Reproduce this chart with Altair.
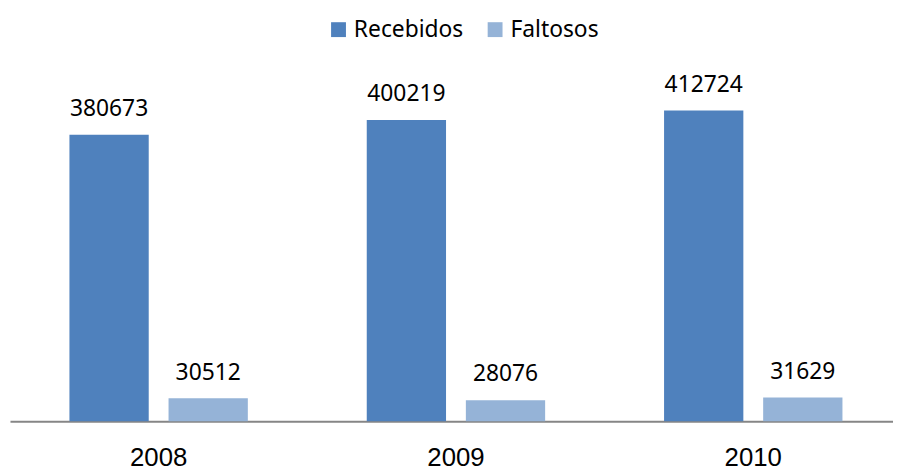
import altair as alt
import pandas as pd

years = ["2008", "2009", "2010"]
series = ["Recebidos", "Faltosos"]
recebidos = [380673, 400219, 412724]
faltosos = [30512, 28076, 31629]

rows = []
for i, yr in enumerate(years):
    rows.append({"ano": yr, "serie": "Recebidos", "valor": recebidos[i]})
    rows.append({"ano": yr, "serie": "Faltosos", "valor": faltosos[i]})
df = pd.DataFrame(rows)

x = alt.X(
    "ano:N", title=None, sort=years,
    scale=alt.Scale(paddingInner=0.4, paddingOuter=0.185, align=0.5405),
    axis=alt.Axis(labelAngle=0, ticks=False, tickSize=0, labelFont="Liberation Sans",
                  labelFontSize=26, labelColor="black", labelBaseline="alphabetic",
                  labelPadding=45, domainColor="#868686", domainWidth=2, grid=False),
)
xo = alt.XOffset("serie:N", sort=series, scale=alt.Scale(paddingInner=0.2, paddingOuter=0))
y = alt.Y("valor:Q", scale=alt.Scale(domain=[0, 450000], nice=False), axis=None)
color = alt.Color(
    "serie:N", sort=series,
    scale=alt.Scale(domain=series, range=["#4F81BD", "#95B3D7"]),
    legend=alt.Legend(orient="none", legendX=320, legendY=-65, direction="horizontal",
                      title=None, symbolType="square", symbolSize=225, symbolStrokeWidth=0,
                      labelFont="Noto Sans", labelFontSize=23, labelColor="black",
                      labelOffset=4, columnPadding=20, padding=0),
)

bars = alt.Chart(df).mark_bar().encode(x=x, xOffset=xo, y=y, color=color)
labels = alt.Chart(df).mark_text(dy=-19, baseline="alphabetic", font="Noto Sans",
                                 fontSize=23, color="black").encode(
    x=x, xOffset=xo, y=y, text="valor:Q")

chart = alt.layer(bars, labels).properties(
    width=891, height=342,
    background="white",
    autosize=alt.AutoSizeParams(type="none"),
    padding={"left": 2, "top": 73, "right": 0, "bottom": 47},
).configure_view(stroke=None)

chart.save("out.html", embed_options={"renderer": "svg", "actions": False})
